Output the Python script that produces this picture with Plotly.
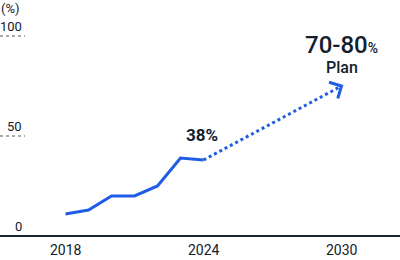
import math
import plotly.graph_objects as go

# ---- data ----
years = [2018, 2019, 2020, 2021, 2022, 2023, 2024]
actual = [11, 13, 20, 20, 25, 39, 38]
plan_years = [2024, 2030]
plan_values = [38, 75]
tick_years = [2018, 2024, 2030]
y_ticks = [0, 50, 100]
latest_label = "38%"
plan_label = "70-80"
plan_caption = "Plan"
unit_label = "(%)"

# ---- style ----
W, H = 400, 260
BLUE = "#1f5de6"
TEXT = "#13202d"
FONT = "Roboto"
x_range = [2015.152, 2032.543]
y_range = [-12, 118]
px_x = W / (x_range[1] - x_range[0])
px_y = H / (y_range[1] - y_range[0])

fig = go.Figure()

fig.add_trace(go.Scatter(x=years, y=actual, mode="lines",
                         line=dict(color=BLUE, width=3), hoverinfo="skip"))
fig.add_trace(go.Scatter(x=plan_years, y=plan_values, mode="lines",
                         line=dict(color=BLUE, width=3, dash="dot"), hoverinfo="skip"))

# open chevron arrow head derived from the plan segment direction
tx, ty = plan_years[-1], plan_values[-1]
dxp = (plan_years[-1] - plan_years[0]) * px_x
dyp = (plan_values[-1] - plan_values[0]) * px_y
theta = math.atan2(dyp, dxp) + math.pi
L = 13
arm = []
for s in (-1, 1):
    a = theta + s * math.pi / 4
    arm.append((tx + L * math.cos(a) / px_x, ty + L * math.sin(a) / px_y))
fig.add_trace(go.Scatter(x=[arm[0][0], tx, arm[1][0]], y=[arm[0][1], ty, arm[1][1]],
                         mode="lines", line=dict(color=BLUE, width=3),
                         hoverinfo="skip"))

shapes = []
annotations = []
for v in y_ticks:
    if v != 0:
        shapes.append(dict(type="line", xref="paper", yref="y", x0=0, x1=25 / W,
                           y0=v, y1=v, line=dict(color="#555555", width=1, dash="dot")))
    annotations.append(dict(xref="paper", yref="y", x=22.5 / W, y=v, xanchor="right",
                            yanchor="middle", yshift=10, text=str(v), showarrow=False,
                            borderpad=0,
                            font=dict(family=FONT, size=13, color=TEXT)))

annotations.append(dict(xref="paper", yref="paper", x=0, y=1, xanchor="left",
                        yanchor="top", text=unit_label, showarrow=False, borderpad=0,
                        font=dict(family=FONT, size=13, color=TEXT)))

for yr in tick_years:
    annotations.append(dict(x=yr, y=0, xanchor="center", yanchor="middle", yshift=-14,
                            text=str(yr), showarrow=False, borderpad=0,
                            font=dict(family=FONT, size=14, color=TEXT)))

annotations.append(dict(x=years[-1], y=actual[-1], xanchor="center", yanchor="middle",
                        yshift=25, xshift=-2, text=latest_label, showarrow=False,
                        borderpad=0,
                        font=dict(family=FONT, size=17, color=TEXT, weight=700)))
annotations.append(dict(x=tx, y=ty, xanchor="center", yanchor="middle", yshift=41,
                        text=plan_label + "<span style='font-size:14px'>%</span>",
                        showarrow=False, borderpad=0,
                        font=dict(family=FONT, size=24, color=TEXT, weight=500)))
annotations.append(dict(x=tx, y=ty, xanchor="center", yanchor="middle", yshift=19,
                        text=plan_caption, showarrow=False, borderpad=0,
                        font=dict(family=FONT, size=16, color=TEXT, weight=500)))

fig.update_layout(
    width=W, height=H, margin=dict(l=0, r=0, t=0, b=0),
    paper_bgcolor="white", plot_bgcolor="white", showlegend=False,
    xaxis=dict(range=x_range, visible=False, fixedrange=True),
    yaxis=dict(range=y_range, showgrid=False, showticklabels=False, ticks="",
               zeroline=True, zerolinecolor="#1a2633", zerolinewidth=1.5,
               fixedrange=True),
    shapes=shapes, annotations=annotations,
)

fig.write_html("out.html", config={"displayModeBar": False})
